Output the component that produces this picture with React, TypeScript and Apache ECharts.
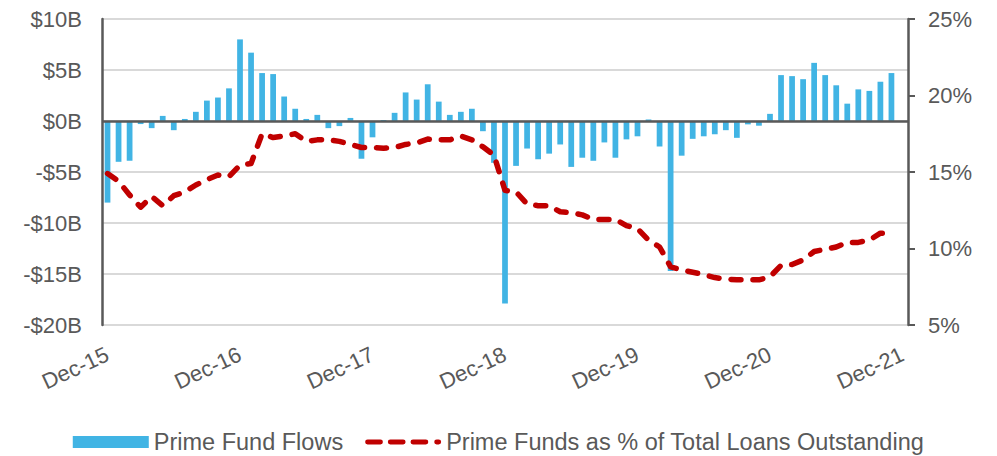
import React, { useEffect, useRef } from "react";
import * as echarts from "echarts";

const categories = [
  "Dec-15", "Jan-16", "Feb-16", "Mar-16", "Apr-16", "May-16", "Jun-16", "Jul-16", "Aug-16", "Sep-16", "Oct-16", "Nov-16",
  "Dec-16", "Jan-17", "Feb-17", "Mar-17", "Apr-17", "May-17", "Jun-17", "Jul-17", "Aug-17", "Sep-17", "Oct-17", "Nov-17",
  "Dec-17", "Jan-18", "Feb-18", "Mar-18", "Apr-18", "May-18", "Jun-18", "Jul-18", "Aug-18", "Sep-18", "Oct-18", "Nov-18",
  "Dec-18", "Jan-19", "Feb-19", "Mar-19", "Apr-19", "May-19", "Jun-19", "Jul-19", "Aug-19", "Sep-19", "Oct-19", "Nov-19",
  "Dec-19", "Jan-20", "Feb-20", "Mar-20", "Apr-20", "May-20", "Jun-20", "Jul-20", "Aug-20", "Sep-20", "Oct-20", "Nov-20",
  "Dec-20", "Jan-21", "Feb-21", "Mar-21", "Apr-21", "May-21", "Jun-21", "Jul-21", "Aug-21", "Sep-21", "Oct-21", "Nov-21",
  "Dec-21",
];

// Prime fund flows, $ billions
const primeFundFlows = [
  -8.0, -4.0, -3.9, -0.3, -0.7, 0.5, -0.9, 0.2, 0.9, 2.0, 2.3, 3.2,
  8.0, 6.7, 4.7, 4.6, 2.4, 1.2, 0.2, 0.6, -0.7, -0.5, 0.3, -3.7,
  -1.6, 0.1, 0.8, 2.8, 2.1, 3.6, 1.9, 0.6, 0.9, 1.2, -1.0, -4.1,
  -17.9, -4.4, -2.7, -3.75, -3.2, -2.3, -4.5, -3.6, -3.9, -2.1, -3.6, -1.8,
  -1.5, 0.15, -2.5, -14.7, -3.4, -1.75, -1.5, -1.3, -0.9, -1.65, -0.33, -0.46,
  0.7, 4.5, 4.4, 4.1, 5.7, 4.5, 3.5, 1.7, 3.1, 2.95, 3.85, 4.7,
  null,
];

// Prime funds as % of total loans outstanding
const primeShare = [
  14.9, 14.4, 13.5, 12.7, 13.4, 12.8, 13.45, 13.7, 14.15, 14.5, 14.8, 14.7,
  15.45, 15.55, 17.5, 17.25, 17.35, 17.5, 17.0, 17.1, 17.1, 17.0, 16.8, 16.6,
  16.6, 16.55, 16.6, 16.8, 16.9, 17.15, 17.1, 17.1, 17.35, 17.1, 16.65, 16.1,
  13.8, 13.7, 12.9, 12.8, 12.8, 12.4, 12.35, 12.2, 11.9, 11.9, 11.9, 11.5,
  11.3, 10.55, 10.1, 8.8, 8.6, 8.45, 8.3, 8.1, 8.0, 7.95, 7.95, 7.95,
  8.15, 8.9, 8.95, 9.25, 9.8, 9.95, 10.1, 10.4, 10.4, 10.55, 11.0, 11.0,
  null,
];

const seriesNames = ["Prime Fund Flows", "Prime Funds as % of Total Loans Outstanding"];

const FONT = "'Liberation Sans', Arial, sans-serif";
const TEXT = "#595959";

const DASH_ICON =
  "path://M2.5,0H15.5A2.5,2.5,0,0,1,15.5,5H2.5A2.5,2.5,0,0,1,2.5,0Z" +
  "M25.5,0H38.5A2.5,2.5,0,0,1,38.5,5H25.5A2.5,2.5,0,0,1,25.5,0Z" +
  "M48.5,0H61.5A2.5,2.5,0,0,1,61.5,5H48.5A2.5,2.5,0,0,1,48.5,0Z" +
  "M72.5,0H74.5A2.5,2.5,0,0,1,74.5,5H72.5A2.5,2.5,0,0,1,72.5,0Z";

export default function App() {
  const ref = useRef<HTMLDivElement>(null);

  useEffect(() => {
    if (!ref.current) return;
    const chart = echarts.init(ref.current, null, { renderer: "svg" });
    chart.setOption({
      animation: false,
      textStyle: { fontFamily: FONT },
      grid: { left: 102, right: 89, top: 19, bottom: 131, containLabel: false },
      legend: {
        top: 425,
        left: "center",
        itemWidth: 76,
        itemHeight: 12,
        itemGap: 22,
        symbolKeepAspect: true,
        textStyle: { color: TEXT, fontSize: 23.5, fontFamily: FONT },
        data: [
          { name: seriesNames[0], icon: "rect" },
          { name: seriesNames[1], icon: DASH_ICON },
        ],
      },
      xAxis: {
        type: "category",
        data: categories,
        boundaryGap: true,
        axisLine: { show: false },
        axisTick: { show: false },
        axisLabel: {
          interval: 11,
          rotate: 25,
          margin: 28,
          color: TEXT,
          fontSize: 22,
          fontFamily: FONT,
        },
      },
      yAxis: [
        {
          type: "value",
          position: "left",
          min: -20,
          max: 10,
          interval: 5,
          axisLine: { show: true, onZero: false, lineStyle: { color: TEXT, width: 2.5 } },
          axisTick: { show: false },
          splitLine: { show: true, lineStyle: { color: "#D9D9D9", width: 2 } },
          axisLabel: {
            margin: 20,
            color: TEXT,
            fontSize: 22,
            fontFamily: FONT,
            formatter: (v: number) => (v < 0 ? `-$${-v}B` : `$${v}B`),
          },
        },
        {
          type: "value",
          position: "right",
          min: 5,
          max: 25,
          interval: 5,
          axisLine: { show: true, onZero: false, lineStyle: { color: TEXT, width: 2.5 } },
          axisTick: { show: true, inside: false, length: 7, lineStyle: { color: TEXT, width: 2 } },
          splitLine: { show: false },
          axisLabel: {
            margin: 20,
            color: TEXT,
            fontSize: 22,
            fontFamily: FONT,
            formatter: "{value}%",
          },
        },
      ],
      series: [
        {
          name: seriesNames[0],
          type: "bar",
          yAxisIndex: 0,
          data: primeFundFlows,
          barWidth: "52%",
          itemStyle: { color: "#41B4E4" },
          markLine: {
            silent: true,
            symbol: "none",
            label: { show: false },
            lineStyle: { color: TEXT, width: 2.5, type: "solid" },
            data: [{ yAxis: 0 }],
          },
        },
        {
          name: seriesNames[1],
          type: "line",
          yAxisIndex: 1,
          data: primeShare,
          symbol: "none",
          showSymbol: false,
          z: 5,
          itemStyle: { color: "#C00000" },
          lineStyle: { color: "#C00000", width: 5.5, type: [10, 12], cap: "round", join: "round" },
        },
      ],
    });
    return () => chart.dispose();
  }, []);

  return (
    <div
      ref={ref}
      style={{ position: "fixed", left: 0, top: 0, width: 997, height: 456, background: "#fff" }}
    />
  );
}
